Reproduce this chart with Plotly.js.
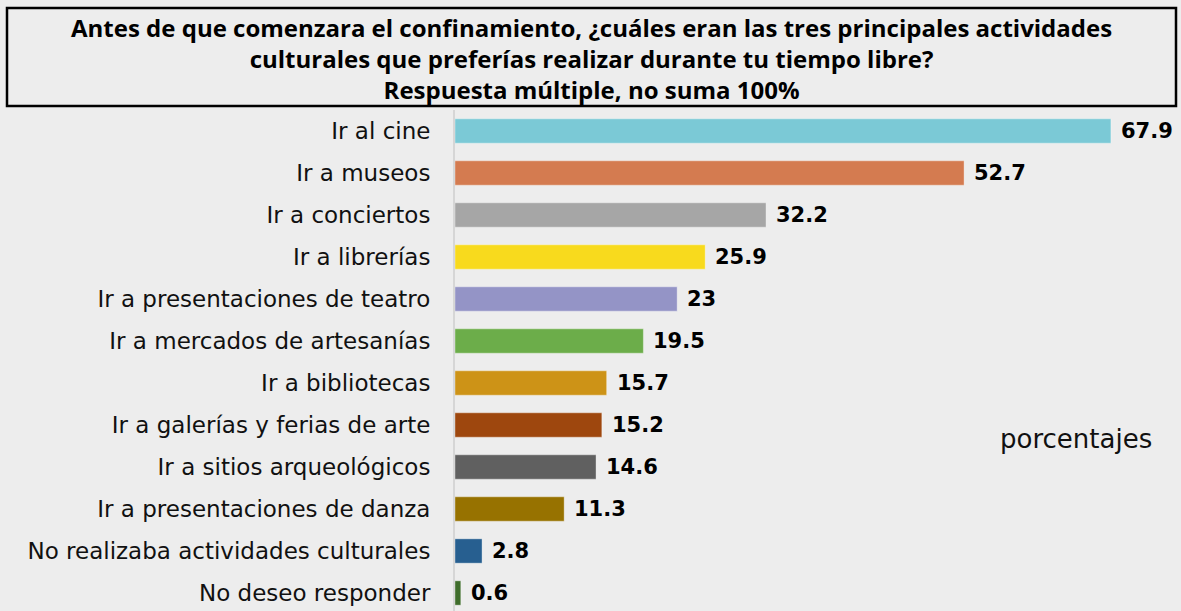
<!DOCTYPE html>
<html>
<head>
<meta charset="utf-8">
<script src="https://cdn.plot.ly/plotly-3.0.1.min.js"></script>
<style>
  html, body { margin: 0; padding: 0; background: #ededed; }
  #chart { width: 1181px; height: 611px; }
</style>
</head>
<body>
<div id="chart"></div>
<script>
// Data (percentages, multiple answer)
const categories = [
  "Ir al cine",
  "Ir a museos",
  "Ir a conciertos",
  "Ir a librerías",
  "Ir a presentaciones de teatro",
  "Ir a mercados de artesanías",
  "Ir a bibliotecas",
  "Ir a galerías y ferias de arte",
  "Ir a sitios arqueológicos",
  "Ir a presentaciones de danza",
  "No realizaba actividades culturales",
  "No deseo responder"
];
const values = [67.9, 52.7, 32.2, 25.9, 23, 19.5, 15.7, 15.2, 14.6, 11.3, 2.8, 0.6];
const barColors = [
  "#7bc9d6", "#d47b50", "#a6a6a6", "#f8da1d", "#9494c6", "#6cad4a",
  "#cd9317", "#9e470e", "#606060", "#977200", "#275f90", "#3f6d2b"
];
const titleLines = [
  "Antes de que comenzara el confinamiento, ¿cuáles eran las tres principales actividades",
  "culturales que preferías realizar durante tu tiempo libre?",
  "Respuesta múltiple, no suma 100%"
];
const unitNote = "porcentajes";

const W = 1181, H = 611;
const M = { l: 455, r: 0, t: 110, b: 0 };
const plotW = W - M.l - M.r, plotH = H - M.t - M.b;
const rowPx = 42; // height of one category band in the reference
// pixel -> paper helpers for the title box and notes
const px = x => (x - M.l) / plotW;
const py = y => (H - M.b - y) / plotH;

const trace = {
  type: "bar",
  orientation: "h",
  y: categories,
  x: values,
  marker: { color: barColors, line: { color: "rgba(255,255,255,0.35)", width: 1 } },
  width: 0.58,
  hoverinfo: "x+y"
};

// value labels to the right of each bar
const valueLabels = values.map((v, i) => ({
  x: v, y: categories[i], xref: "x", yref: "y",
  text: "<b>" + v + "</b>", showarrow: false,
  xanchor: "left", xshift: 8,
  font: { family: "DejaVu Sans, sans-serif", size: 21, color: "#000" }
}));

const layout = {
  width: W, height: H,
  margin: M,
  paper_bgcolor: "#ededed",
  plot_bgcolor: "#ededed",
  showlegend: false,
  xaxis: {
    range: [0, plotW / 9.66],
    showgrid: false, zeroline: false, showticklabels: false,
    showline: false, fixedrange: true
  },
  yaxis: {
    categoryorder: "array", categoryarray: categories,
    range: [plotH / rowPx - 0.5, -0.5],
    showgrid: false, zeroline: false,
    showline: true, linecolor: "#d6d6d6", linewidth: 2,
    ticks: "", ticklabelstandoff: 18,
    tickfont: { family: "DejaVu Sans, sans-serif", size: 23, color: "#111" },
    fixedrange: true
  },
  shapes: [{
    type: "rect", xref: "paper", yref: "paper",
    x0: px(7), x1: px(1176), y0: py(8), y1: py(106),
    line: { color: "#000", width: 2.5 }, fillcolor: "rgba(0,0,0,0)"
  }],
  annotations: valueLabels.concat([
    {
      text: titleLines.map(t => "<b>" + t + "</b>").join("<br>"),
      xref: "paper", yref: "paper",
      x: px(591), y: py(9), xanchor: "center", yanchor: "top",
      showarrow: false, align: "center",
      font: { family: "Open Sans, sans-serif", size: 24, color: "#000" }
    },
    {
      text: unitNote, xref: "paper", yref: "paper",
      x: px(1154), y: py(439), xanchor: "right", yanchor: "middle",
      showarrow: false,
      font: { family: "DejaVu Sans, sans-serif", size: 26, color: "#111" }
    }
  ])
};

Plotly.newPlot("chart", [trace], layout, { displayModeBar: false, staticPlot: true });
</script>
</body>
</html>
